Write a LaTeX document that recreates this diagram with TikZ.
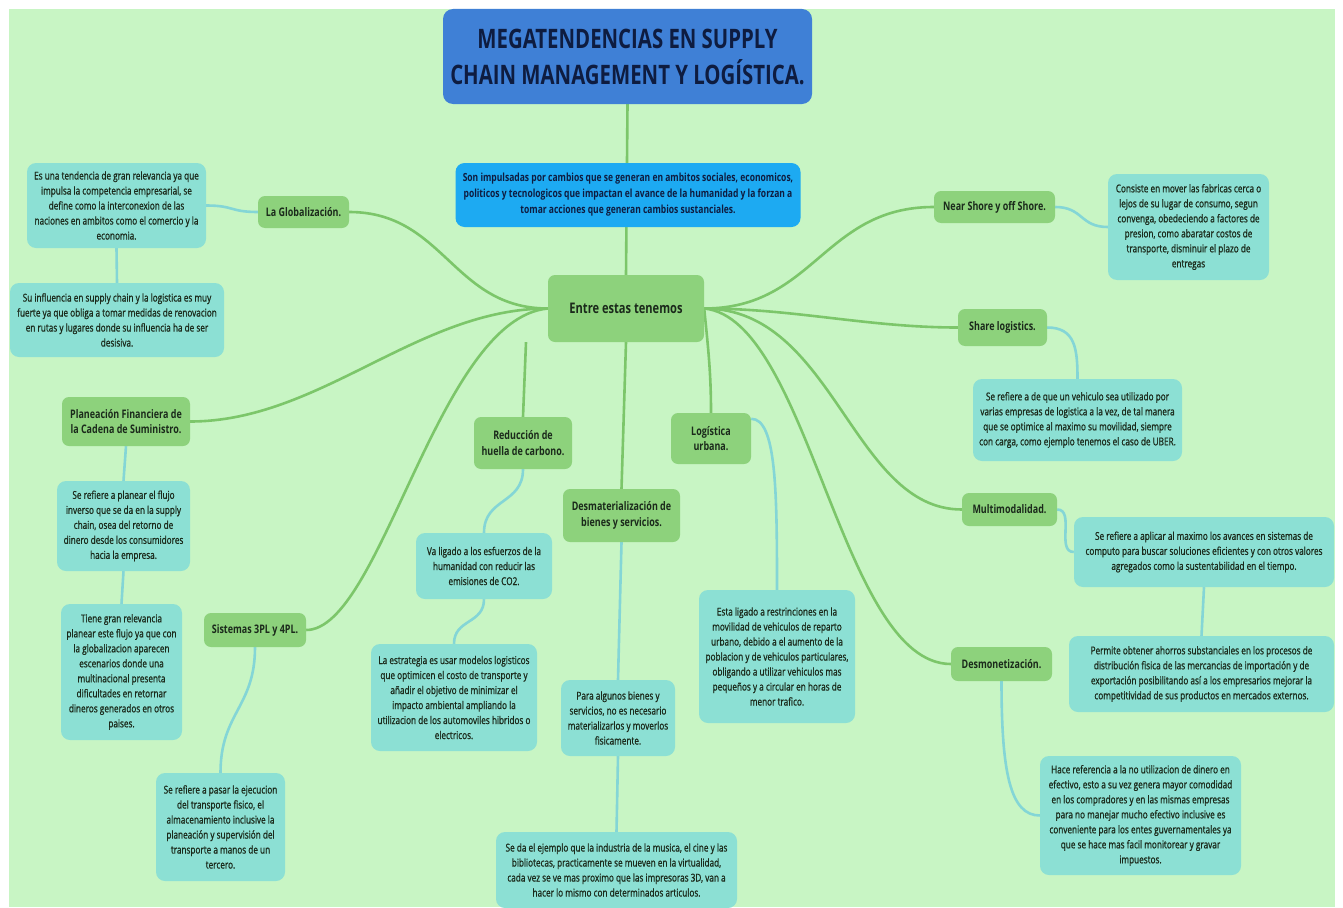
\documentclass[tikz,border=0pt]{standalone}
\usepackage{fontspec}
\setmainfont{Open Sans}[FakeStretch=0.76]
\newfontfamily\detfont{Open Sans}[FakeStretch=0.76, FakeBold=1]
\usetikzlibrary{calc}
\definecolor{bggreen}{HTML}{C8F5C4}
\definecolor{topicfill}{HTML}{8DD27C}
\definecolor{detailfill}{HTML}{8CE0D4}
\definecolor{linkgreen}{HTML}{7CC66A}
\definecolor{linkteal}{HTML}{84D6D6}
\definecolor{titleblue}{HTML}{3F80D6}
\definecolor{descblue}{HTML}{1DAAF2}
\definecolor{inkdark}{HTML}{1B2A1B}
\definecolor{inknavy}{HTML}{0E1C40}
\pgfdeclarelayer{bg}
\pgfdeclarelayer{links}
\pgfsetlayers{bg,links,main}
\tikzset{
  topic/.style={fill=topicfill, rounded corners=7pt, text=inkdark, align=center,
    inner sep=0pt, font=\bfseries\fontsize{11.8}{15.5}\selectfont},
  detail/.style={fill=detailfill, rounded corners=9pt, text=inkdark, align=center,
    inner sep=0pt, font=\detfont\fontsize{10.8}{15}\selectfont},
  link/.style={draw=linkgreen, line width=2.6pt},
  sublink/.style={draw=linkteal, line width=2.6pt},
  box/.style 2 args={minimum width=#1pt, minimum height=#2pt}
}
\begin{document}
\begin{tikzpicture}[x=1pt,y=-1pt]
\begin{pgfonlayer}{bg}
  \fill[white] (0,0) rectangle (1343,907);
  \fill[bggreen] (9,9) rectangle (1335,907);
\end{pgfonlayer}
\useasboundingbox (0,0) rectangle (1343,907);

% title and summary
\node[fill=titleblue, rounded corners=10pt, box={369}{95}, align=center, inner sep=0pt,
  text=inknavy, font=\bfseries\fontsize{26.8}{36}\selectfont]
  (title) at (627.5,56.5) {MEGATENDENCIAS EN SUPPLY\\CHAIN MANAGEMENT Y LOGÍSTICA.};
\node[fill=descblue, rounded corners=9pt, box={345}{64}, align=center, inner sep=0pt,
  text=inknavy, font=\bfseries\fontsize{11.2}{16}\selectfont]
  (desc) at (628,195) {Son impulsadas por cambios que se generan en ambitos sociales, economicos,\\politicos y tecnologicos que impactan el avance de la humanidad y la forzan a\\tomar acciones que generan cambios sustanciales.};
\node[topic, box={156}{67}, font=\bfseries\fontsize{14.6}{17}\selectfont]
  (cen) at (626,308.5) {Entre estas tenemos};

% main branches
\node[topic, box={91}{32}] (glob) at (303.5,212) {La Globalización.};
\node[topic, box={121}{32}] (near) at (994.5,207) {Near Shore y off Shore.};
\node[topic, box={89}{37}] (share) at (1002.5,327.5) {Share logistics.};
\node[topic, box={128}{49}] (plan) at (126,421.5) {Planeación Financiera de\\la Cadena de Suministro.};
\node[topic, box={98}{52}] (red) at (523,443) {Reducción de\\huella de carbono.};
\node[topic, box={80}{51}] (urb) at (711,438.5) {Logística\\urbana.};
\node[topic, box={117}{53}] (desm) at (621.5,515.5) {Desmaterialización de\\bienes y servicios.};
\node[topic, box={95}{33}] (multi) at (1009.5,509.5) {Multimodalidad.};
\node[topic, box={102}{34}] (sis) at (255,630) {Sistemas 3PL y 4PL.};
\node[topic, box={101}{34}] (dmon) at (1001.5,664) {Desmonetización.};

% details
\node[detail, box={179}{85}] (glob1) at (116.5,205.5) {Es una tendencia de gran relevancia ya que\\impulsa la competencia empresarial, se\\define como la interconexion de las\\naciones en ambitos como el comercio y la\\economia.};
\node[detail, box={214}{74}] (glob2) at (117,320) {Su influencia en supply chain y la logistica es muy\\fuerte ya que obliga a tomar medidas de renovacion\\en rutas y lugares donde su influencia ha de ser\\desisiva.};
\node[detail, box={161}{106}] (near1) at (1188.5,227) {Consiste en mover las fabricas cerca o\\lejos de su lugar de consumo, segun\\convenga, obedeciendo a factores de\\presion, como abaratar costos de\\transporte, disminuir el plazo de\\entregas};
\node[detail, box={209}{82}] (share1) at (1077.5,420) {Se refiere a de que un vehiculo sea utilizado por\\varias empresas de logistica a la vez, de tal manera\\que se optimice al maximo su movilidad, siempre\\con carga, como ejemplo tenemos el caso de UBER.};
\node[detail, box={133}{90}] (plan1) at (123.5,526) {Se refiere a planear el flujo\\inverso que se da en la supply\\chain, osea del retorno de\\dinero desde los consumidores\\hacia la empresa.};
\node[detail, box={121}{136}] (plan2) at (121.5,672) {Tiene gran relevancia\\planear este flujo ya que con\\la globalizacion aparecen\\escenarios donde una\\multinacional presenta\\dificultades en retornar\\dineros generados en otros\\paises.};
\node[detail, box={136}{66}] (red1) at (484,566) {Va ligado a los esfuerzos de la\\humanidad con reducir las\\emisiones de CO2.};
\node[detail, box={166}{107}] (red2) at (454,697.5) {La estrategia es usar modelos logisticos\\que optimicen el costo de transporte y\\añadir el objetivo de minimizar el\\impacto ambiental ampliando la\\utilizacion de los automoviles hibridos o\\electricos.};
\node[detail, box={114}{76}] (desm1) at (618,718) {Para algunos bienes y\\servicios, no es necesario\\materializarlos y moverlos\\fisicamente.};
\node[detail, box={241}{76}] (desm2) at (616.5,870) {Se da el ejemplo que la industria de la musica, el cine y las\\bibliotecas, practicamente se mueven en la virtualidad,\\cada vez se ve mas proximo que las impresoras 3D, van a\\hacer lo mismo con determinados articulos.};
\node[detail, box={156}{133}] (urb1) at (777,656.5) {Esta ligado a restrinciones en la\\movilidad de vehiculos de reparto\\urbano, debido a el aumento de la\\poblacion y de vehiculos particulares,\\obligando a utilizar vehiculos mas\\pequeños y a circular en horas de\\menor trafico.};
\node[detail, box={260}{70}] (multi1) at (1204,552) {Se refiere a aplicar al maximo los avances en sistemas de\\computo para buscar soluciones eficientes y con otros valores\\agregados como la sustentabilidad en el tiempo.};
\node[detail, box={265}{76}] (multi2) at (1201.5,674) {Permite obtener ahorros substanciales en los procesos de\\distribución fisica de las mercancias de importación y de\\exportación posibilitando así a los empresarios mejorar la\\competitividad de sus productos en mercados externos.};
\node[detail, box={201}{119}] (dmon1) at (1140.5,815.5) {Hace referencia a la no utilizacion de dinero en\\efectivo, esto a su vez genera mayor comodidad\\en los compradores y en las mismas empresas\\para no manejar mucho efectivo inclusive es\\conveniente para los entes guvernamentales ya\\que se hace mas facil monitorear y gravar\\impuestos.};
\node[detail, box={129}{108}] (sis1) at (220.5,827) {Se refiere a pasar la ejecucion\\del transporte fisico, el\\almacenamiento inclusive la\\planeación y supervisión del\\transporte a manos de un\\tercero.};

% connectors
\begin{pgfonlayer}{links}
  \draw[link] (title.south) -- (cen.north);
  \draw[link] (cen.west) .. controls +(-95,0) and +(95,0) .. (glob.east);
  \draw[link] (cen.west) .. controls +(-130,0) and +(130,0) .. (plan.east);
  \draw[link] (cen.west) .. controls +(-110,10) and +(75,0) .. (sis.east);
  \draw[link] ($(cen.south)+(-100,0)$) -- (red.north);
  \draw[link] (cen.south) -- (desm.north);
  \draw[link] (cen.east) .. controls +(4,40) and +(0,-40) .. (urb.north);
  \draw[link] (cen.east) .. controls +(110,0) and +(-110,0) .. (near.west);
  \draw[link] (cen.east) .. controls +(90,0) and +(-90,0) .. (share.west);
  \draw[link] (cen.east) .. controls +(130,0) and +(-110,0) .. (multi.west);
  \draw[link] (cen.east) .. controls +(105,10) and +(-110,0) .. (dmon.west);

  \draw[sublink] (glob.west) .. controls +(-28,0) and +(28,0) .. (glob1.east);
  \draw[sublink] (glob1.south) -- (glob2.north);
  \draw[sublink] (near.east) .. controls +(28,0) and +(-28,0) .. (near1.west);
  \draw[sublink] (share.east) .. controls +(28,0) and +(0,-30) .. (share1.north);
  \draw[sublink] (plan.south) -- (plan1.north);
  \draw[sublink] (plan1.south) -- (plan2.north);
  \draw[sublink] (red.south) .. controls +(0,35) and +(0,-35) .. (red1.north);
  \draw[sublink] (red1.south) .. controls +(0,25) and +(0,-25) .. (red2.north);
  \draw[sublink] (desm.south) -- (desm1.north);
  \draw[sublink] (desm1.south) -- (desm2.north);
  \draw[sublink] ($(urb.north east)+(0,6)$) .. controls +(25,0) and +(0,-100) .. (urb1.north);
  \draw[sublink] (multi.east) .. controls +(18,0) and +(-18,0) .. (multi1.west);
  \draw[sublink] (multi1.south) -- (multi2.north);
  \draw[sublink] (dmon.south) .. controls +(0,90) and +(-30,0) .. (dmon1.west);
  \draw[sublink] (sis.south) .. controls +(0,60) and +(0,-60) .. (sis1.north);
\end{pgfonlayer}
\end{tikzpicture}
\end{document}
